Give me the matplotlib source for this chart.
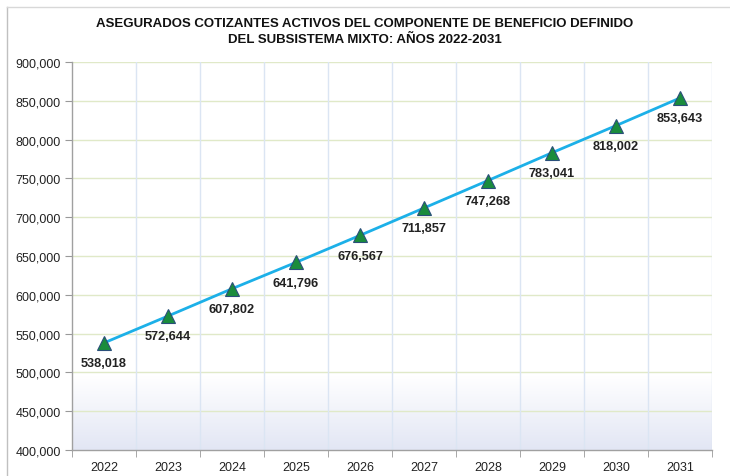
import matplotlib
matplotlib.use("Agg")
import matplotlib.pyplot as plt
import numpy as np
from matplotlib.ticker import FuncFormatter, MultipleLocator
from matplotlib.lines import Line2D
from matplotlib.colors import LinearSegmentedColormap

years = ["2022", "2023", "2024", "2025", "2026", "2027", "2028", "2029", "2030", "2031"]
values = [538018, 572644, 607802, 641796, 676567, 711857, 747268, 783041, 818002, 853643]
title = "ASEGURADOS COTIZANTES ACTIVOS DEL COMPONENTE DE BENEFICIO DEFINIDO\nDEL SUBSISTEMA MIXTO: AÑOS 2022-2031"

plt.rcParams['font.family'] = ['Liberation Sans', 'DejaVu Sans']

fig = plt.figure(figsize=(7.30, 4.77), dpi=100)
ax = fig.add_axes([72/730, 26/477, 640/730, 388/477])

x = np.arange(len(years))
ax.set_xlim(-0.5, len(years) - 0.5)
ax.set_ylim(400000, 900000)

# gradient background at bottom
grad = np.linspace(0, 1, 256).reshape(-1, 1)
cmap = LinearSegmentedColormap.from_list("g", ["#e2e6f4", "#ffffff"])
ax.imshow(grad, extent=(-0.5, len(years) - 0.5, 400000, 495000), origin="lower",
          aspect="auto", cmap=cmap, zorder=0)

# gridlines
for yv in range(450000, 900001, 50000):
    ax.axhline(yv, color="#e0e9c8", lw=1.0, zorder=1)
for b in np.arange(0.5, len(years) - 0.5, 1):
    ax.axvline(b, color="#dbe5f3", lw=1.0, zorder=1)
ax.axvline(len(years) - 0.5, color="#dbe5f3", lw=1.0, zorder=1)

ax.plot(x, values, color="#1cb0e8", lw=2.0, zorder=3)
ax.plot(x, values, linestyle="none", marker="^", markersize=10,
        markerfacecolor="#1a8c3c", markeredgecolor="#2a4f7a", markeredgewidth=0.8, zorder=4)

for xi, v in zip(x, values):
    ax.annotate(f"{v:,}", (xi, v), xytext=(0, -14.5), textcoords="offset points",
                ha="center", va="center", fontsize=9.2, fontweight="bold", color="#222222", zorder=5)

ax.yaxis.set_major_locator(MultipleLocator(50000))
ax.yaxis.set_major_formatter(FuncFormatter(lambda v, p: f"{int(v):,}"))
ax.set_xticks(x)
ax.set_xticklabels(years)
ax.tick_params(axis="x", length=0, pad=8, labelsize=9, colors="#222222")
ax.set_xticks(np.arange(-0.5, len(years), 1), minor=True)
ax.tick_params(axis="x", which="minor", length=5, color="#999999", direction="out")
ax.tick_params(axis="y", length=5, color="#999999", direction="out", labelsize=9, labelcolor="#222222", pad=3)

for s in ["top", "right"]:
    ax.spines[s].set_visible(False)
for s in ["left", "bottom"]:
    ax.spines[s].set_color("#a0a0a0")
    ax.spines[s].set_linewidth(1.0)

fig.text(0.5, 1 - 32/477, title, ha="center", va="center", fontsize=9.5, fontweight="bold",
         color="#111111", linespacing=1.55)

# outer frame lines (left and top)
fig.add_artist(Line2D([7/730, 7/730], [0, 1 - 8/477], transform=fig.transFigure, color="#c0c0c0", lw=1.0))
fig.add_artist(Line2D([7/730, 1], [1 - 8/477, 1 - 8/477], transform=fig.transFigure, color="#d8d8d8", lw=1.0))

fig.savefig("out.png", dpi=100)
